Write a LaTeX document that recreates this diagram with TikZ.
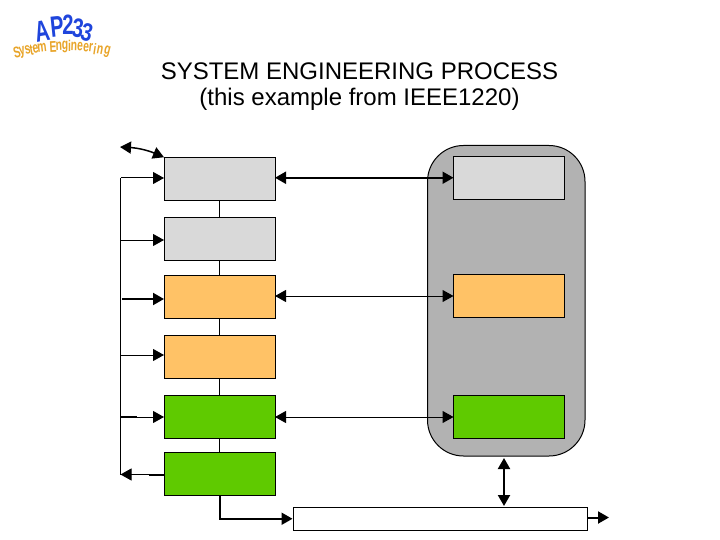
\documentclass[tikz,border=0pt]{standalone}
\usepackage{fontspec}
\setmainfont{Liberation Sans}
\usetikzlibrary{arrows.meta}
\definecolor{boxgray}{HTML}{D9D9D9}
\definecolor{boxorange}{HTML}{FFC266}
\definecolor{boxgreen}{HTML}{5FCA00}
\definecolor{panelgray}{HTML}{B2B2B2}
\definecolor{logoblue}{HTML}{1F45DC}
\definecolor{logoorange}{HTML}{E8A428}
\tikzset{
	stepbox/.style={draw,rectangle,line width=1pt,inner sep=0pt,outer sep=0pt,minimum width=111pt,minimum height=43pt},
	link/.style={line width=1pt},
	arr/.style={line width=1pt,-{Triangle[length=11pt,width=12pt]}},
	thickarr/.style={arr,line width=2pt},
	twoway/.style={line width=1pt,{Triangle[length=11pt,width=12pt]}-{Triangle[length=11pt,width=12pt]}},
	thicktwoway/.style={twoway,line width=2pt}
}
\begin{document}
\begin{tikzpicture}[x=1pt,y=-1pt]
		\useasboundingbox (0,0) rectangle (720,540);
		% logo
		\foreach \ch/\px/\py/\ang/\sc [count=\i] in {A/42/31/10/1.05,P/57/27/6/1.05,2/68/25/0/1.0,3/78/28/-8/0.95,3/87/32/-14/0.9}
			\path (\px,\py) node(logo\i)[text=logoblue,font=\bfseries\fontsize{28}{28}\selectfont,inner sep=0pt,rotate=\ang,xscale=0.72,yscale=\sc]{\ch};
		\foreach \ch/\px/\py/\ang [count=\i] in {S/17/52/14,y/22.5/52.5/13,s/27.5/50/12,t/31.5/50/10,e/35.5/49/9,m/42/48/7,E/53/47/3,n/59/46.5/2,g/65/47/0,i/69.5/46/0,n/74/46.5/-2,e/80/47/-4,e/86/47.5/-5,r/91/48/-7,i/95/49/-9,n/100/50/-11,g/107/52/-14}
			\path (\px,\py) node(word\i)[text=logoorange,font=\bfseries\fontsize{13}{13}\selectfont,inner sep=0pt,rotate=\ang,xscale=0.8,yscale=1.2]{\ch};
		% title
		\path (359.5,87) node(title)[align=center,font=\fontsize{24}{26}\selectfont,inner sep=0pt]{SYSTEM ENGINEERING PROCESS\\(this example from IEEE1220)};
		% panel
		\path (506.25,300.75) node(panel)[draw,rectangle,fill=panelgray,line width=1pt,rounded corners=36pt,inner sep=0pt,minimum width=157.5pt,minimum height=310.5pt]{};
		% left boxes
		\path (219.5,178.75) node(a1)[stepbox,fill=boxgray]{}
		(219.5,239) node(a2)[stepbox,fill=boxgray,minimum height=42pt]{}
		(219.5,297.25) node(a3)[stepbox,fill=boxorange]{}
		(219.5,356.5) node(a4)[stepbox,fill=boxorange]{}
		(219.5,416.75) node(a5)[stepbox,fill=boxgreen]{}
		(219.5,473.75) node(a6)[stepbox,fill=boxgreen]{};
		% right boxes
		\path (509,177.75) node(b1)[stepbox,fill=boxgray]{}
		(509,296) node(b2)[stepbox,fill=boxorange]{}
		(509,417) node(b3)[stepbox,fill=boxgreen]{};
		% bottom box
		\path (440,518.75) node(out)[draw,rectangle,fill=white,line width=1pt,inner sep=0pt,minimum width=294pt,minimum height=22.5pt]{};
		% free ends
		\coordinate (c0) at (120,147);
		\coordinate (c1) at (120.5,178);
		\coordinate (c2) at (120.5,240);
		\coordinate (c3) at (122,299);
		\coordinate (c4) at (120.5,355);
		\coordinate (c5) at (120.5,417);
		\coordinate (c6) at (120.5,474.5);
		\coordinate (d1) at (504,458);
		\coordinate (d2) at (504,506);
		\coordinate (e1) at (609,517.5);
		% links
		\draw[link] (a1) to (a2);
		\draw[link] (a2) to (a3);
		\draw[link] (a3) to (a4);
		\draw[link] (a4) to (a5);
		\draw[link] (a5) to (a6);
		\draw[link] (c1) to (c6);
		% left arrows
		\draw[twoway,line width=1.5pt, bend left=10] (c0) to (a1.north west);
		\draw[arr] (c1) to (a1.west |- c1);
		\draw[arr] (c2) to (a2.west |- c2);
		\draw[thickarr] (c3) to (a3.west |- c3);
		\draw[arr] (c4) to (a4.west |- c4);
		\draw[arr] (c5) to (a5.west |- c5);
		\draw[arr] (a6.west |- c6) to (c6);
		\draw[line width=2pt] (c5) to ++(16,0);
		\draw[line width=2pt] (a6.west |- c6) to ++(-15,0);
		% across
		\draw[thicktwoway] (a1.east |- b1) to (b1.west);
		\draw[twoway] (a3.east |- b2) to (b2.west);
		\draw[twoway] (a5.east |- b3) to (b3.west);
		% bottom
		\draw[thicktwoway] (d1) to (d2);
		\draw[thickarr] (a6.south) |- (out.west);
		\draw[thickarr] (out.east |- e1) to (e1);
	\end{tikzpicture}
\end{document}
